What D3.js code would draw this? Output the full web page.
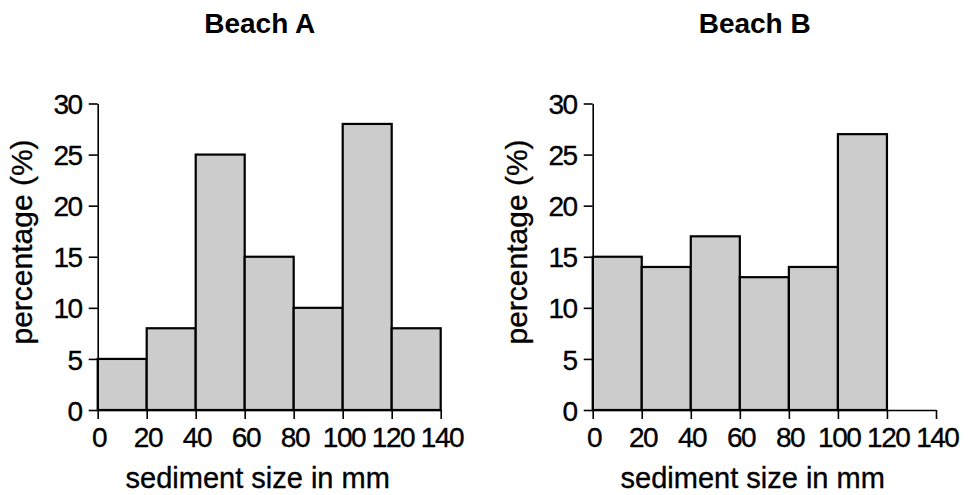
<!DOCTYPE html>
<meta charset='utf-8'>
<style>
body { margin: 0; background: #fff; }
svg text { font-family: 'Liberation Sans', Arial, sans-serif; fill: #000; stroke: #000; stroke-width: 0.35; }
.bars rect { fill: #cccccc; stroke: #000; stroke-width: 2.2; }
.axis path, .axis line { stroke: #000; stroke-width: 1.6; }
.axis text { font-size: 28px; letter-spacing: -1.5px; }
.label { font-size: 29px; }
</style>
<script src='https://cdn.jsdelivr.net/npm/d3@7'></script>
<script>
window.onload = () => {
'use strict'

// Data - percentage of sediment per 20 mm bin
let binEdges = [0, 20, 40, 60, 80, 100, 120, 140],
	beachA = [5, 8, 25, 15, 10, 28, 8],
	beachB = [15, 14, 17, 13, 14, 27],
	yTicks = [0, 5, 10, 15, 20, 25, 30],
	xTicks = [0, 20, 40, 60, 80, 100, 120, 140]

let svg = d3.select('body').append('svg')
	.attr('width', 972).attr('height', 495)

let panel = (title, values, x0, x1) => {
	let x = d3.scaleLinear([0, 140], [x0, x1]),
		y = d3.scaleLinear([0, 30], [410, 103.5]),
		g = svg.append('g')

	g.append('g').attr('class', 'bars').selectAll('rect')
		.data(values)
		.join('rect')
			.attr('x', (d, i) => x(binEdges[i]))
			.attr('y', d => y(d))
			.attr('width', (d, i) => x(binEdges[i + 1]) - x(binEdges[i]))
			.attr('height', d => y(0) - y(d))

	g.append('g').attr('class', 'axis')
		.attr('transform', `translate(0,${y(0)})`)
		.call(d3.axisBottom(x).tickValues(xTicks).tickSize(9).tickPadding(8).tickSizeOuter(0))
		.call(s => s.selectAll('text').attr('dy', '0.71em').attr('dx', '0.75'))
	g.append('g').attr('class', 'axis')
		.attr('transform', `translate(${x(0)},0)`)
		.call(d3.axisLeft(y).tickValues(yTicks).tickSize(9).tickPadding(7).tickSizeOuter(0))
		.call(s => s.selectAll('text').attr('dy', '0.36em'))
	g.selectAll('.domain').attr('fill', 'none')

	g.append('text').attr('class', 'label')
		.attr('x', x0 + 162).attr('y', 33)
		.attr('text-anchor', 'middle')
		.style('font-size', '28px').style('font-weight', 'bold').style('stroke-width', 0)
		.text(title)
	g.append('text').attr('class', 'label')
		.attr('x', x0 + 160).attr('y', 488)
		.attr('text-anchor', 'middle')
		.text('sediment size in mm')
	g.append('text').attr('class', 'label')
		.attr('transform', `translate(${x0 - 66},242) rotate(-90)`)
		.attr('text-anchor', 'middle')
		.style('font-size', '30px')
		.text('percentage (%)')
}

panel('Beach A', beachA, 97.7, 440.7)
panel('Beach B', beachB, 592.7, 936)
}
</script>
